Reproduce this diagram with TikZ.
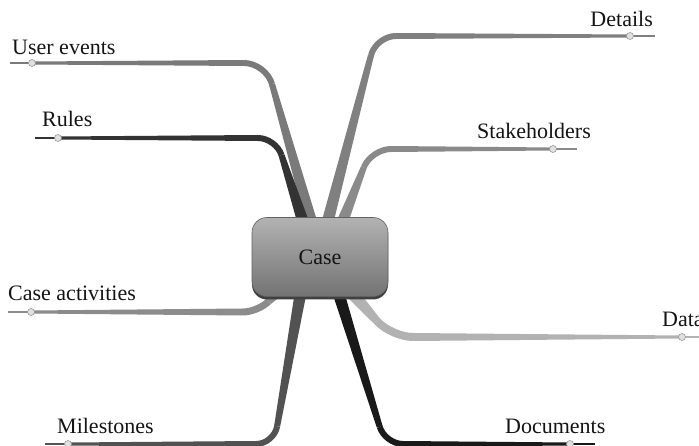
\documentclass[tikz,border=0pt]{standalone}
\usepackage{fontspec}
\setmainfont{Liberation Serif}
\usetikzlibrary{calc,shadows}

% A tapering mind-map limb:
% #1 colour, #2 start, #3 corner, #4 knob, #5 tip, #6 corner radius,
% #7 half-width at start, #8 half-width at corner
\newcommand\limb[8]{%
  \path ($(#3)!#6!(#2)$) coordinate (lA) ($(#3)!#6!(#4)$) coordinate (lB);
  \fill[#1] ($(#2)!#7!90:(#3)$) -- ($(lA)!#8!90:(#3)$) -- ($(lA)!#8!-90:(#3)$)
            -- ($(#2)!#7!-90:(#3)$) -- cycle;
  \draw[#1, line width=2*#8, rounded corners=#6] (lA) -- (#3) -- (lB);
  \fill[#1] ($(lB)!#8!90:(#4)$) -- ($(#4)!1.5pt!90:(#5)$) -- ($(#4)!1.5pt!-90:(#5)$)
            -- ($(lB)!#8!-90:(#4)$) -- cycle;
  \draw[#1, line width=1.3pt] (#4) -- (#5);
  \draw[knob] (#4) circle (3.5);
}

\begin{document}
\begin{tikzpicture}[x=1pt, y=-1pt, font=\fontsize{22}{26}\selectfont,
  lbl/.style={anchor=base west, inner sep=0pt, text=black!92},
  knob/.style={fill=black!12, draw=black!40, line width=0.6pt},
  casebox/.style={minimum width=136pt, minimum height=79pt, rounded corners=15pt,
    top color=black!30, bottom color=black!55, draw=black!62, line width=0.6pt,
    text=black!92, general shadow={fill=black!75, shadow yshift=-3pt}}]
\useasboundingbox (0,0) rectangle (699,446);

% limb geometry: start, corner, knob, tip
\coordinate (ue-s) at (313,228); \coordinate (ue-c) at (266,63);
\coordinate (ue-m) at (32,63);   \coordinate (ue-t) at (10,63);
\coordinate (ru-s) at (305,228); \coordinate (ru-c) at (276,138);
\coordinate (ru-m) at (58,138);  \coordinate (ru-t) at (35,138);
\coordinate (de-s) at (326,228); \coordinate (de-c) at (376,36);
\coordinate (de-m) at (630,36);  \coordinate (de-t) at (655,36);
\coordinate (st-s) at (340,228); \coordinate (st-c) at (371,149);
\coordinate (st-m) at (553,149); \coordinate (st-t) at (577,149);
\coordinate (ca-s) at (285,285); \coordinate (ca-c) at (258,312);
\coordinate (ca-m) at (31,312);  \coordinate (ca-t) at (8,312);
\coordinate (mi-s) at (302,285); \coordinate (mi-c) at (274,444);
\coordinate (mi-m) at (68,444);  \coordinate (mi-t) at (45,444);
\coordinate (da-s) at (345,285); \coordinate (da-c) at (391,337);
\coordinate (da-m) at (682,337); \coordinate (da-t) at (710,337);
\coordinate (do-s) at (336,285); \coordinate (do-c) at (385,444);
\coordinate (do-m) at (570,444); \coordinate (do-t) at (595,444);

\limb{black!52}{ue-s}{ue-c}{ue-m}{ue-t}{22pt}{6pt}{3pt}
\limb{black!80}{ru-s}{ru-c}{ru-m}{ru-t}{18pt}{6pt}{3pt}
\limb{black!50}{de-s}{de-c}{de-m}{de-t}{20pt}{6pt}{3pt}
\limb{black!46}{st-s}{st-c}{st-m}{st-t}{20pt}{6pt}{3pt}
\limb{black!45}{ca-s}{ca-c}{ca-m}{ca-t}{15pt}{6pt}{3.5pt}
\limb{black!68}{mi-s}{mi-c}{mi-m}{mi-t}{18pt}{6pt}{3pt}
\limb{black!30}{da-s}{da-c}{da-m}{da-t}{22pt}{7pt}{4pt}
\limb{black!90}{do-s}{do-c}{do-m}{do-t}{18pt}{6pt}{3pt}

% central topic
\node[casebox] (case) at (320,257) {Case};

% branch labels
\node[lbl] (l-ue) at (12,55)  {User events};
\node[lbl] (l-ru) at (42,127) {Rules};
\node[lbl, anchor=base east] (l-de) at (653,27) {Details};
\node[lbl] (l-st) at (477,139) {Stakeholders};
\node[lbl] (l-ca) at (8,301)  {Case activities};
\node[lbl] (l-mi) at (57,433) {Milestones};
\node[lbl] (l-da) at (662,327) {Data};
\node[lbl] (l-do) at (505,433) {Documents};
\end{tikzpicture}
\end{document}
